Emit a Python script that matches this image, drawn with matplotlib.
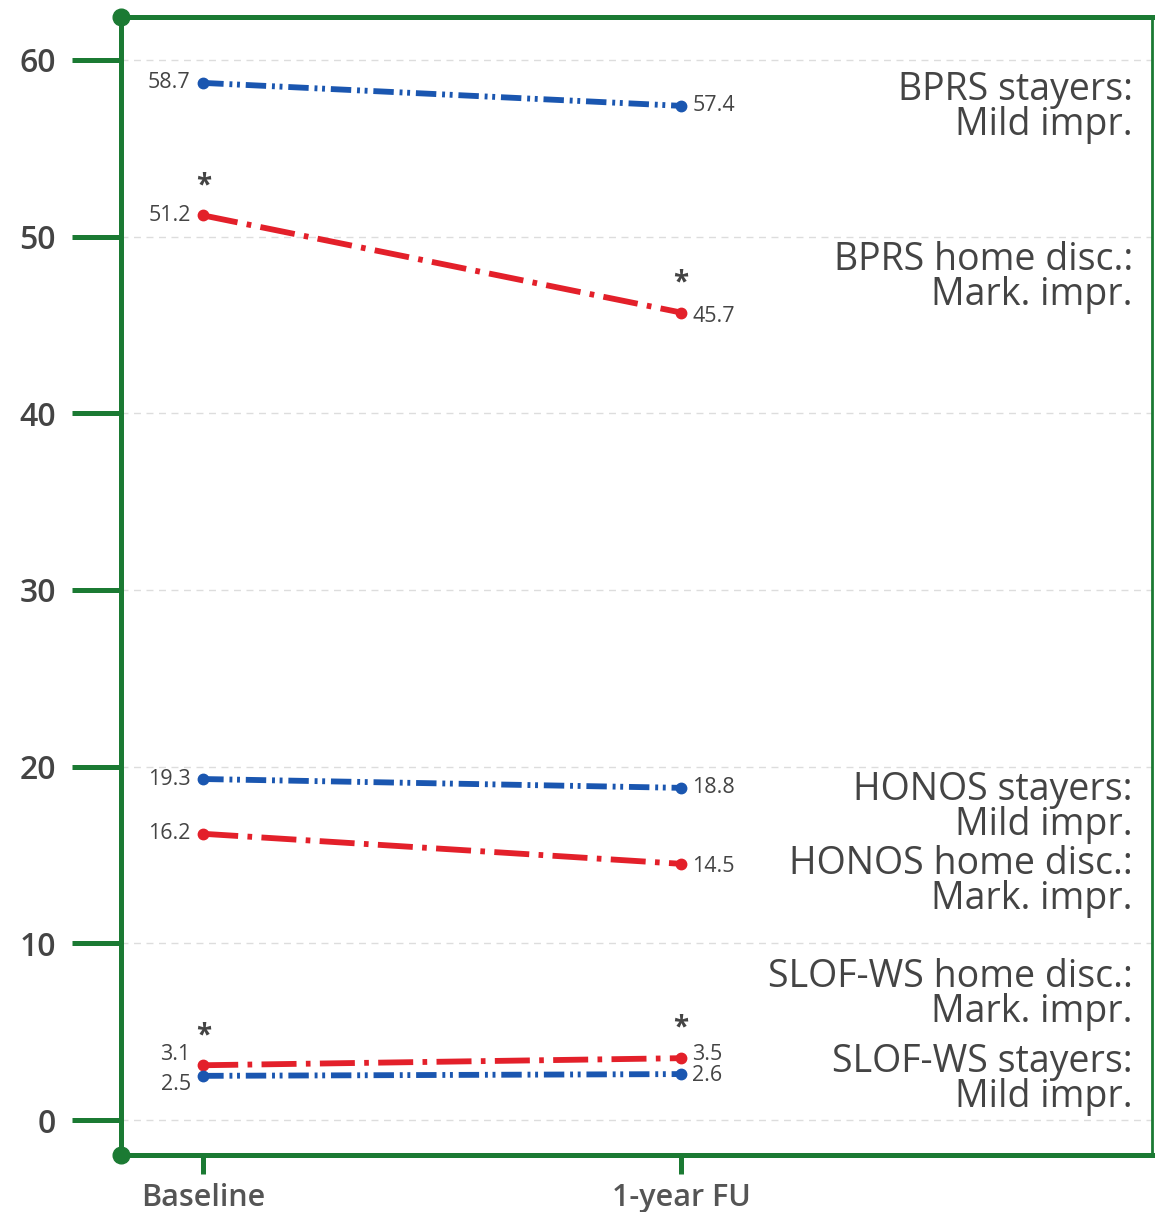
import matplotlib
matplotlib.use('Agg')
import matplotlib.pyplot as plt

plt.rcParams['font.family'] = ['Open Sans', 'DejaVu Sans']

# Data
timepoints = ["Baseline", "1-year FU"]
series_names = ["BPRS stayers", "BPRS home disc.", "HONOS stayers",
                "HONOS home disc.", "SLOF-WS home disc.", "SLOF-WS stayers"]
baseline = [58.7, 51.2, 19.3, 16.2, 3.1, 2.5]
followup = [57.4, 45.7, 18.8, 14.5, 3.5, 2.6]
kind = ["stay", "home", "stay", "home", "home", "stay"]
star_base = [False, True, False, False, True, False]
star_fu = [False, True, False, False, True, False]
notes = ["BPRS stayers:\nMild impr.", "BPRS home disc.:\nMark. impr.",
         "HONOS stayers:\nMild impr.", "HONOS home disc.:\nMark. impr.",
         "SLOF-WS home disc.:\nMark. impr.", "SLOF-WS stayers:\nMild impr."]
note_y = [57.3, 47.7, 17.7, 13.5, 7.1, 2.3]
yticks = [0, 10, 20, 30, 40, 50, 60]

GREEN = "#1b7a33"
BLUE = "#1a56b0"
RED = "#e3202a"
TEXT = "#444444"

style = {
    "stay": dict(color=BLUE, dashes=(3.5, 1.0, 0.5, 0.8, 0.5, 1.0)),
    "home": dict(color=RED, dashes=(6.0, 1.6, 0.8, 1.6)),
}

# label offsets (points) for the crowded bottom pair
lab_off_base = [0, 0, 0, 0, 8, -6]
lab_off_fu = [0, -3, 0, -2, 3, -1]

fig = plt.figure(figsize=(11.55, 12.12), dpi=100)
ax = fig.add_axes([121 / 1155, 57 / 1212, 1031 / 1155, 1138 / 1212])

xs = [0, 1]
for i in range(len(series_names)):
    st = style[kind[i]]
    ax.plot(xs, [baseline[i], followup[i]], color=st["color"], lw=4.2,
            dashes=st["dashes"], marker="o", markersize=7.5,
            solid_capstyle="butt", zorder=3)
    ax.annotate(f"{baseline[i]:.1f}", (0, baseline[i]), xytext=(-9, lab_off_base[i]),
                textcoords="offset points", ha="right", va="center",
                fontsize=15.5, color=TEXT)
    ax.annotate(f"{followup[i]:.1f}", (1, followup[i]), xytext=(8, lab_off_fu[i]),
                textcoords="offset points", ha="left", va="center",
                fontsize=15.5, color=TEXT)
    if star_base[i]:
        ax.annotate("*", (0, baseline[i]), xytext=(0, 11), textcoords="offset points",
                    ha="center", va="bottom", fontsize=20, color=TEXT, fontweight="bold")
    if star_fu[i]:
        ax.annotate("*", (1, followup[i]), xytext=(0, 11), textcoords="offset points",
                    ha="center", va="bottom", fontsize=20, color=TEXT, fontweight="bold")
    ax.text(1.945, note_y[i], notes[i], ha="right", va="center", fontsize=27,
            color=TEXT, linespacing=0.88)

ax.set_xlim(-0.172, 1.985)
ax.set_ylim(-1.98, 62.43)
ax.set_xticks(xs)
ax.set_xticklabels(timepoints, fontsize=22, fontweight="semibold", color="#555555")
ax.set_yticks(yticks)
ax.set_yticklabels([str(v) for v in yticks], fontsize=23, fontweight="semibold", color=TEXT)

ax.tick_params(axis="y", length=35, width=3.6, color=GREEN, pad=12)
ax.tick_params(axis="x", length=14, width=3.6, color=GREEN, pad=6)
ax.get_yticklines()[-2].set_color("#444444")

ax.grid(axis="y", color="#dddddd", linestyle=(0, (5, 4)), linewidth=1)
ax.set_axisbelow(True)

for side in ["left", "bottom", "top"]:
    ax.spines[side].set_color(GREEN)
    ax.spines[side].set_linewidth(3.6)
ax.spines["right"].set_color(GREEN)
ax.spines["right"].set_linewidth(2)

# round dots at the left corners of the frame
ax.plot([0, 0], [0, 1], "o", color=GREEN, markersize=12, transform=ax.transAxes,
        clip_on=False, zorder=5)

plt.savefig("out.png", dpi=100)
